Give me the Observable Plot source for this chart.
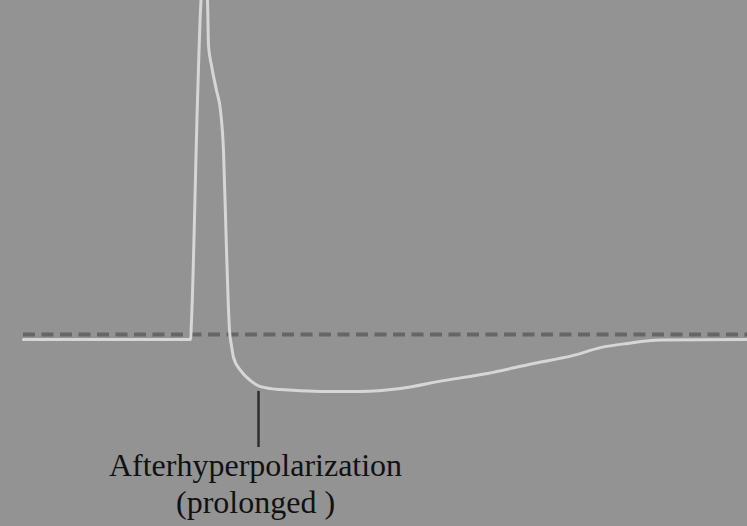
<!DOCTYPE html>
<html>
<head>
<meta charset="utf-8">
<script src="https://cdn.jsdelivr.net/npm/d3@7"></script>
<script src="https://cdn.jsdelivr.net/npm/@observablehq/plot@0.6"></script>
<style>
  html, body { margin: 0; padding: 0; background: #939393; }
  #chart svg { display: block; }
</style>
</head>
<body>
<div id="chart"></div>
<script>
// Membrane potential trace (time in ms, voltage in mV)
const time = [2.3, 19.0, 19.1, 19.7, 20.0, 20.35, 20.7, 20.8, 21.1, 21.6, 22.0, 22.3, 22.6, 22.9, 23.1, 23.3, 24.0, 25.0, 26.0, 28.0, 32.0, 36.0, 40.0, 44.3, 48.7, 53.3, 57.3, 60.0, 62.7, 66.0, 74.7];
const voltage = [-70, -70, -63.7, 9.7, 39.7, 53, 43, 28, 21.3, 13, 6.3, -7, -40.3, -67, -72, -76, -80.3, -83.7, -85.7, -86.7, -87.3, -87.3, -86.3, -83.7, -81.3, -78, -75.3, -72.7, -71.3, -70.2, -70];
const restingPotential = [-68.3];
const leaderTime = [25.8];
const labels = ["Afterhyperpolarization", "(prolonged )"];
const labelVoltage = [-112, -124.3];

const trace = time.map((t, i) => ({t, v: voltage[i]}));
const labelData = labels.map((s, i) => ({text: s, t: 25.5, v: labelVoltage[i]}));

const chart = Plot.plot({
  width: 747,
  height: 526,
  marginTop: 0, marginBottom: 0, marginLeft: 0, marginRight: 0,
  x: {domain: [0, 74.7], axis: null},
  y: {domain: [-132.33, 43], axis: null},
  style: {background: "#939393"},
  marks: [
    Plot.ruleY(restingPotential, {y: d => d, x1: 2.3, x2: 74.7, stroke: "#666666", strokeWidth: 4, strokeDasharray: "12,6.5"}),
    Plot.ruleX(leaderTime, {x: d => d, y1: -87.3, y2: -106, stroke: "#2e2e2e", strokeWidth: 2.5}),
    Plot.line(trace, {x: "t", y: "v", stroke: "#d6d6d6", strokeWidth: 3, curve: "monotone-x", clip: true}),
    Plot.text(labelData, {x: "t", y: "v", text: "text", fontFamily: "Liberation Serif", fontSize: 32, fill: "#111", textAnchor: "middle", lineAnchor: "middle"})
  ]
});
document.getElementById("chart").appendChild(chart);
</script>
</body>
</html>
